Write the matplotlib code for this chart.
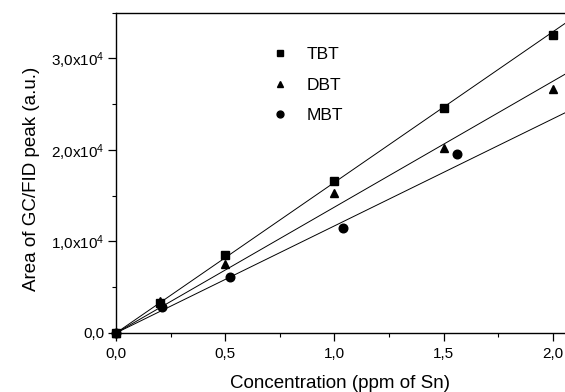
import matplotlib
matplotlib.use("Agg")
import matplotlib.pyplot as plt
import numpy as np
from matplotlib.ticker import FuncFormatter, MultipleLocator

plt.rcParams['font.family'] = ['Liberation Sans', 'DejaVu Sans']
plt.rcParams['mathtext.fontset'] = 'custom'
plt.rcParams['mathtext.rm'] = 'Liberation Sans'
plt.rcParams['mathtext.default'] = 'regular'

# Data
tbt_x = [0.0, 0.2, 0.5, 1.0, 1.5, 2.0]
tbt_y = [0, 3300, 8500, 16600, 24600, 32500]
dbt_x = [0.0, 0.2, 0.5, 1.0, 1.5, 2.0]
dbt_y = [0, 3450, 7500, 15300, 20200, 26700]
mbt_x = [0.0, 0.21, 0.52, 1.04, 1.56]
mbt_y = [0, 2800, 6100, 11500, 19600]
# calibration line slopes (area per ppm)
slopes = {"TBT": 16450, "DBT": 13750, "MBT": 11700}
labels = ["TBT", "DBT", "MBT"]

fig = plt.figure(figsize=(5.65, 3.92), dpi=100)
ax = fig.add_axes([116/565, 1-333/392, 1-116/565, (333-12.5)/392])

xmax = 2.055
xl = np.array([0.0, xmax])
for name, xs, ys, m in [("TBT", tbt_x, tbt_y, 's'), ("DBT", dbt_x, dbt_y, '^'), ("MBT", mbt_x, mbt_y, 'o')]:
    ax.plot(xl, slopes[name]*xl, color='black', lw=0.7)
    ax.plot(xs, ys, linestyle='none', marker=m, color='black',
            markersize=6 if m != 'o' else 6.2, label=name, clip_on=False, zorder=3)

ax.set_xlim(0, xmax)
ax.set_ylim(0, 35000)
ax.xaxis.set_major_locator(MultipleLocator(0.5))
ax.xaxis.set_minor_locator(MultipleLocator(0.25))
ax.yaxis.set_major_locator(MultipleLocator(10000))
ax.yaxis.set_minor_locator(MultipleLocator(5000))

def xfmt(v, p):
    return f"{v:.1f}".replace('.', ',')

def yfmt(v, p):
    if abs(v) < 1e-9:
        return "0,0"
    return f"{v/1e4:.1f}".replace('.', ',') + r"x10$^{4}$"

ax.xaxis.set_major_formatter(FuncFormatter(xfmt))
ax.yaxis.set_major_formatter(FuncFormatter(yfmt))
ax.tick_params(which='major', direction='out', length=6, width=0.9, labelsize=11, colors='black', pad=2)
ax.tick_params(axis='x', which='major', pad=4)
ax.tick_params(which='minor', direction='out', length=3, width=0.8)
ax.spines['right'].set_visible(False)
for s in ['left', 'bottom', 'top']:
    ax.spines[s].set_linewidth(1.0)

ax.set_xlabel("Concentration (ppm of Sn)", fontsize=13.5, labelpad=10)
ax.set_ylabel("Area of GC/FID peak (a.u.)", fontsize=13.5)
ax.yaxis.set_label_coords(-0.17, 0.48)

leg = ax.legend(loc='upper left', bbox_to_anchor=(0.33, 0.915), frameon=False,
                fontsize=12.5, handlelength=1.0, handletextpad=1.05, labelspacing=0.9,
                borderaxespad=0, markerscale=0.8)
fig.savefig("out.png", dpi=100)
